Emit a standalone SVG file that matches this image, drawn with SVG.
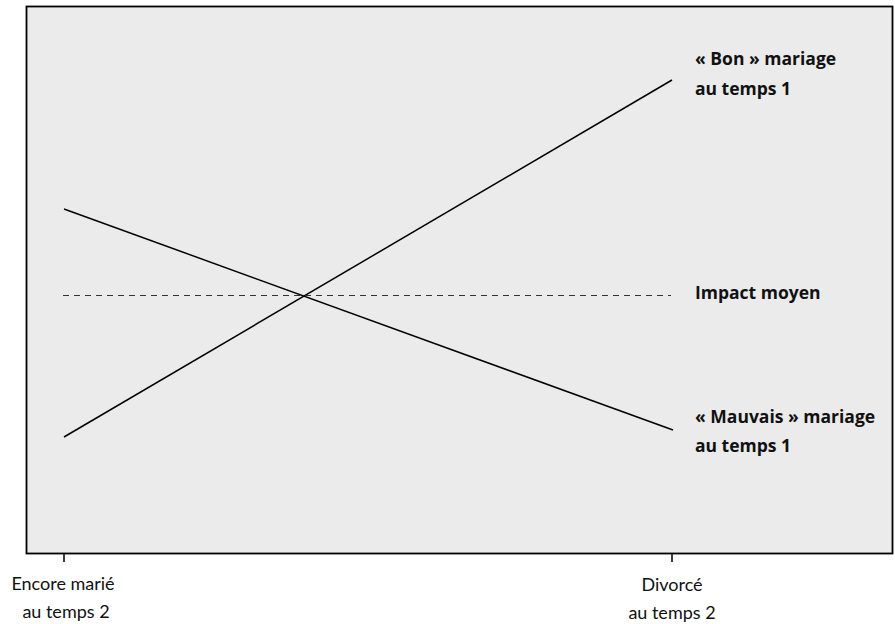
<svg xmlns="http://www.w3.org/2000/svg" width="895" height="624" viewBox="0 0 895 624">
<style>
.lbl{font-family:"Open Sans",Lato,"Liberation Sans",sans-serif;font-weight:bold;font-size:17.5px;fill:#111}
.ax{font-family:Lato,"Open Sans","Liberation Sans",sans-serif;font-size:18px;fill:#111;text-anchor:middle}
.ln{stroke:#000;stroke-width:1.5;fill:none}
</style>
<rect width="895" height="624" fill="#fff"/>
<g id="plot">
<rect x="26.5" y="6.5" width="866" height="547" fill="#ebebeb" stroke="#000" stroke-width="1.8"/>
<line class="ln" x1="64" y1="554" x2="64" y2="562" stroke-width="1.2"/>
<line class="ln" x1="672" y1="554" x2="672" y2="562" stroke-width="1.2"/>
</g>
<g id="connectors">
<line class="ln" x1="64" y1="209" x2="673" y2="430"/>
<line class="ln" x1="64" y1="437" x2="672" y2="80"/>
<line x1="63" y1="295.5" x2="671" y2="295.5" stroke="#333" stroke-width="1" stroke-dasharray="6,5"/>
</g>
<g id="bon"><text class="lbl" x="695" y="65">« Bon » mariage</text><text class="lbl" x="695" y="95">au temps 1</text></g>
<g id="impact"><text class="lbl" x="695" y="299">Impact moyen</text></g>
<g id="mauvais"><text class="lbl" x="695" y="423">« Mauvais » mariage</text><text class="lbl" x="695" y="452">au temps 1</text></g>
<g id="encore"><text class="ax" x="63" y="590">Encore marié</text><text class="ax" x="66" y="618">au temps 2</text></g>
<g id="divorce"><text class="ax" x="672" y="591">Divorcé</text><text class="ax" x="672" y="619">au temps 2</text></g>
</svg>
